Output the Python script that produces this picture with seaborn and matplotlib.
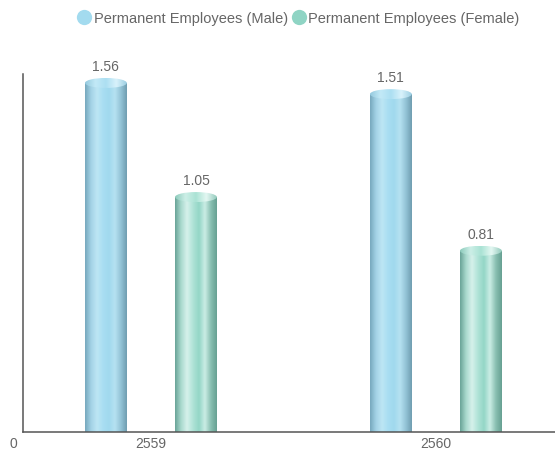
import numpy as np
import pandas as pd
import matplotlib
matplotlib.use("Agg")
import matplotlib.pyplot as plt
from matplotlib.colors import LinearSegmentedColormap
from matplotlib.patches import Ellipse
from matplotlib.lines import Line2D
import seaborn as sns

# Data
years = ["2559", "2560"]
series = ["Permanent Employees (Male)", "Permanent Employees (Female)"]
male_values = [1.56, 1.51]
female_values = [1.05, 0.81]

df = pd.DataFrame({
    "year": years * 2,
    "series": [series[0]] * 2 + [series[1]] * 2,
    "value": male_values + female_values,
})

base_colors = {series[0]: "#a3dbef", series[1]: "#8fd4c4"}
side_stops = {
    series[0]: ["#76a8bd", "#a3d2e6", "#bde6f4", "#a9def2", "#a0d9ee", "#b6e2f1", "#93c3d6", "#6f9db0"],
    series[1]: ["#69a396", "#a8d9cd", "#d6f1eb", "#b0e3d7", "#93d6c6", "#cbede5", "#88bfb1", "#66a092"],
}
top_stops = {
    series[0]: ["#94c9de", "#c3eaf7", "#acdff2", "#d9f2fb", "#9bcee2"],
    series[1]: ["#8ccabb", "#cdefe7", "#a9e2d4", "#e4f7f2", "#92cabc"],
}

sns.set_theme(style="white")
plt.rcParams["font.family"] = ["Liberation Sans", "DejaVu Sans"]

fig = plt.figure(figsize=(5.55, 4.52), dpi=100)
ax = fig.add_axes([23 / 555, 19 / 452, 1 - 23 / 555, (433 - 75) / 452])

sns.barplot(data=df, x="year", y="value", hue="series", order=years,
            hue_order=series, palette=base_colors, width=0.632, gap=0.535,
            ax=ax, legend=False, errorbar=None)

ax.set_xlim(-0.449, 1.418)
ax.set_ylim(0, 1.6)

grad = np.linspace(0, 1, 256).reshape(1, -1)
px_per_unit_y = (433 - 75) / 1.6
ell_h = 10 / px_per_unit_y

for container, name in zip(ax.containers, series):
    side_cmap = LinearSegmentedColormap.from_list(name + "_side", side_stops[name])
    top_cmap = LinearSegmentedColormap.from_list(name + "_top", top_stops[name])
    for bar in container:
        x0 = bar.get_x()
        w = bar.get_width()
        h = bar.get_height()
        bar.set_facecolor("none")
        bar.set_edgecolor("none")
        img = ax.imshow(grad, cmap=side_cmap, aspect="auto",
                        extent=(x0, x0 + w, 0, h), zorder=2,
                        interpolation="bicubic")
        img.set_clip_path(bar)
        top = Ellipse((x0 + w / 2, h), w, ell_h, facecolor="none",
                      edgecolor="none", zorder=3)
        ax.add_patch(top)
        timg = ax.imshow(grad, cmap=top_cmap, aspect="auto",
                         extent=(x0, x0 + w, h - ell_h / 2, h + ell_h / 2),
                         zorder=3, interpolation="bicubic")
        timg.set_clip_path(top)
        ax.text(x0 + w / 2, h + ell_h / 2 + 12 / px_per_unit_y, f"{h:.2f}",
                ha="center", va="center", fontsize=10, color="#666666",
                zorder=4)

ax.set_xlim(-0.449, 1.418)
ax.set_ylim(0, 1.6)

for side in ["top", "right"]:
    ax.spines[side].set_visible(False)
for side in ["left", "bottom"]:
    ax.spines[side].set_color("#555555")
    ax.spines[side].set_linewidth(1.1)

ax.set_yticks([])
ax.set_xlabel("")
ax.set_ylabel("")
ax.tick_params(axis="x", length=0, pad=3, labelsize=10, labelcolor="#666666")
ax.text(-10 / 532, -11 / 358, "0", transform=ax.transAxes, ha="center",
        va="center", fontsize=10, color="#666666")

handles = [Line2D([0], [0], marker="o", linestyle="", markersize=11,
                  markerfacecolor=base_colors[s], markeredgecolor="none")
           for s in series]
fig.legend(handles, series, loc="center", bbox_to_anchor=(297 / 555, 1 - 19 / 452),
           ncol=2, frameon=False, fontsize=10.5, labelcolor="#666666",
           handletextpad=0.0, columnspacing=0.1, handlelength=1.3)

fig.savefig("out.png", dpi=100)
